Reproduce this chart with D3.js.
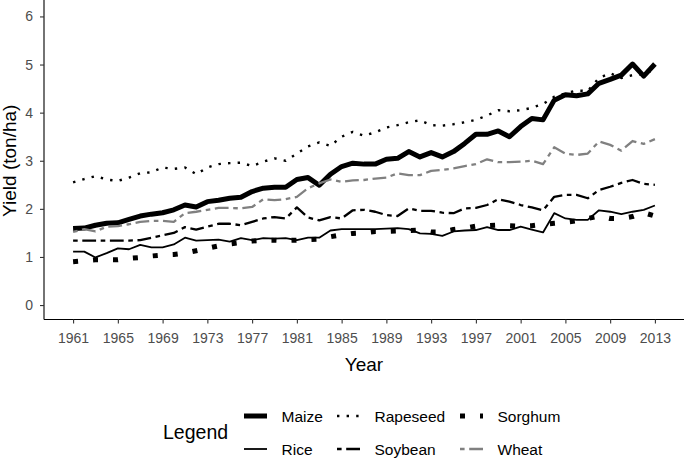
<!DOCTYPE html>
<html>
<head>
<meta charset="utf-8">
<script src="https://cdn.jsdelivr.net/npm/d3@7"></script>
<style>
  html, body { margin: 0; padding: 0; background: #fff; }
  svg { display: block; font-family: "Liberation Sans", Arial, sans-serif; }
</style>
</head>
<body>
<svg id="chart" width="685" height="460"></svg>
<script>
// ---- data ----
const years = [1961,1962,1963,1964,1965,1966,1967,1968,1969,1970,1971,1972,1973,1974,1975,1976,1977,1978,1979,1980,
  1981,1982,1983,1984,1985,1986,1987,1988,1989,1990,1991,1992,1993,1994,1995,1996,1997,1998,1999,2000,
  2001,2002,2003,2004,2005,2006,2007,2008,2009,2010,2011,2012,2013];

const maize = [1.59,1.60,1.66,1.70,1.71,1.78,1.85,1.89,1.92,1.98,2.08,2.04,2.15,2.18,2.22,2.24,2.36,2.43,2.45,2.45,
  2.61,2.65,2.49,2.72,2.88,2.95,2.93,2.93,3.03,3.05,3.19,3.08,3.17,3.08,3.19,3.36,3.55,3.55,3.62,3.50,
  3.71,3.88,3.85,4.26,4.37,4.35,4.39,4.61,4.69,4.78,5.01,4.76,5.01];

const rapeseed = [2.55,2.62,2.68,2.61,2.58,2.65,2.74,2.76,2.86,2.83,2.86,2.72,2.86,2.93,2.95,2.96,2.89,2.98,3.05,3.00,
  3.15,3.30,3.38,3.31,3.50,3.60,3.52,3.59,3.69,3.74,3.80,3.84,3.74,3.73,3.76,3.80,3.85,3.94,4.05,4.03,
  4.05,4.10,4.18,4.33,4.40,4.46,4.45,4.72,4.82,4.72,4.78,4.80,4.90];

const rice = [1.11,1.11,0.99,1.08,1.18,1.16,1.25,1.20,1.20,1.26,1.40,1.34,1.35,1.36,1.32,1.39,1.35,1.39,1.38,1.39,
  1.35,1.40,1.40,1.55,1.58,1.58,1.58,1.58,1.59,1.60,1.58,1.49,1.48,1.44,1.53,1.55,1.56,1.62,1.56,1.56,
  1.63,1.57,1.51,1.91,1.80,1.77,1.77,1.97,1.94,1.89,1.94,1.98,2.07];

const sorghum = [0.90,0.92,0.94,0.94,0.94,0.97,0.99,1.02,1.04,1.05,1.08,1.13,1.18,1.23,1.27,1.30,1.33,1.35,1.35,1.34,
  1.35,1.36,1.37,1.42,1.46,1.49,1.50,1.53,1.53,1.54,1.55,1.56,1.52,1.52,1.57,1.60,1.64,1.65,1.66,1.65,
  1.64,1.65,1.68,1.70,1.72,1.75,1.80,1.85,1.80,1.80,1.84,1.92,1.85];

const soybean = [1.34,1.34,1.34,1.34,1.34,1.34,1.35,1.40,1.45,1.50,1.62,1.57,1.63,1.69,1.69,1.66,1.73,1.80,1.83,1.80,
  2.03,1.82,1.76,1.83,1.80,1.97,1.98,1.94,1.87,1.85,2.01,1.96,1.96,1.92,1.91,2.01,2.02,2.08,2.20,2.15,
  2.08,2.03,1.97,2.25,2.29,2.29,2.22,2.39,2.46,2.54,2.60,2.52,2.50];

const wheat = [1.52,1.58,1.53,1.63,1.64,1.68,1.73,1.75,1.75,1.73,1.91,1.94,1.98,2.02,2.02,2.01,2.04,2.20,2.18,2.20,
  2.25,2.43,2.53,2.61,2.56,2.59,2.60,2.63,2.65,2.74,2.70,2.70,2.79,2.81,2.84,2.89,2.93,3.03,2.97,2.97,
  2.98,3.00,2.93,3.28,3.15,3.12,3.15,3.40,3.33,3.21,3.41,3.35,3.45];

const crops = ["Maize","Rapeseed","Rice","Sorghum","Soybean","Wheat"];
const xTicks = [1961,1965,1969,1973,1977,1981,1985,1989,1993,1997,2001,2005,2009,2013];
const yTicks = [0,1,2,3,4,5,6];
const legendOrder = [["Maize","Rapeseed","Sorghum"],["Rice","Soybean","Wheat"]];

// ---- styles ----
const seriesData = {Maize: maize, Rapeseed: rapeseed, Rice: rice, Sorghum: sorghum, Soybean: soybean, Wheat: wheat};
const styles = {
  Maize:    {color: "#000", width: 5,   dash: null},
  Rapeseed: {color: "#000", width: 2.4, dash: "2.4 7.2"},
  Rice:     {color: "#000", width: 1.8, dash: null},
  Sorghum:  {color: "#000", width: 5,   dash: "5 15"},
  Soybean:  {color: "#000", width: 2.3, dash: "4.6 4.6 13.8 4.6"},
  Wheat:    {color: "#808080", width: 2.3, dash: "4.6 4.6 13.8 4.6"}
};

const svg = d3.select("#chart");
const pLeft = 44, pRight = 684, pTop = 2, pBottom = 319.5;

const x = d3.scaleLinear().domain([1961 - 2.6, 2013 + 2.6]).range([pLeft, pRight]);
const y = d3.scaleLinear().domain([-0.3, 6.3]).range([pBottom, pTop]);

// axes
const xAxis = d3.axisBottom(x).tickValues(xTicks).tickFormat(d3.format("d")).tickSize(4).tickPadding(10);
const yAxis = d3.axisLeft(y).tickValues(yTicks).tickFormat(d3.format("d")).tickSize(4).tickPadding(7);

const gx = svg.append("g").attr("transform", `translate(0,${pBottom})`).call(xAxis);
const gy = svg.append("g").attr("transform", `translate(${pLeft},0)`).call(yAxis);

[gx, gy].forEach(g => {
  g.select(".domain").attr("stroke", "#000").attr("stroke-width", 1.1);
  g.selectAll(".tick line").attr("stroke", "#333").attr("stroke-width", 1.1);
  g.selectAll(".tick text").attr("fill", "#4d4d4d").style("font-size", "14px")
    .style("font-family", "'Liberation Sans', Arial, sans-serif");
});
gx.select(".domain").attr("d", `M${pLeft},0H${pRight}`);
gy.select(".domain").attr("d", `M0,${pTop - 2}V${pBottom}`);

// axis titles
svg.append("text").attr("x", (pLeft + pRight) / 2).attr("y", 371)
  .attr("text-anchor", "middle").style("font-size", "19px").attr("fill", "#000").text("Year");
svg.append("text").attr("transform", `translate(16,${(pTop + pBottom) / 2}) rotate(-90)`)
  .attr("text-anchor", "middle").style("font-size", "19px").attr("fill", "#000").text("Yield (ton/ha)");

// lines
const line = d3.line().x((d, i) => x(years[i])).y(d => y(d));
crops.forEach(c => {
  const s = styles[c];
  svg.append("path")
    .attr("d", line(seriesData[c]))
    .attr("fill", "none")
    .attr("stroke", s.color)
    .attr("stroke-width", s.width)
    .attr("stroke-linejoin", "round")
    .attr("stroke-linecap", "butt")
    .attr("stroke-dasharray", s.dash);
});

// legend
svg.append("text").attr("x", 163).attr("y", 439).style("font-size", "19.5px").attr("fill", "#000").text("Legend");
const colX = [244, 337, 460];
const rowY = [416, 449];
legendOrder.forEach((row, ri) => {
  row.forEach((name, ci) => {
    const s = styles[name];
    svg.append("line")
      .attr("x1", colX[ci]).attr("x2", colX[ci] + 23)
      .attr("y1", rowY[ri]).attr("y2", rowY[ri])
      .attr("stroke", s.color).attr("stroke-width", s.width)
      .attr("stroke-linecap", "butt")
      .attr("stroke-dasharray", s.dash);
    svg.append("text")
      .attr("x", colX[ci] + 37.5).attr("y", rowY[ri] + 6)
      .style("font-size", "15.5px").attr("fill", "#000").text(name);
  });
});
</script>
</body>
</html>
